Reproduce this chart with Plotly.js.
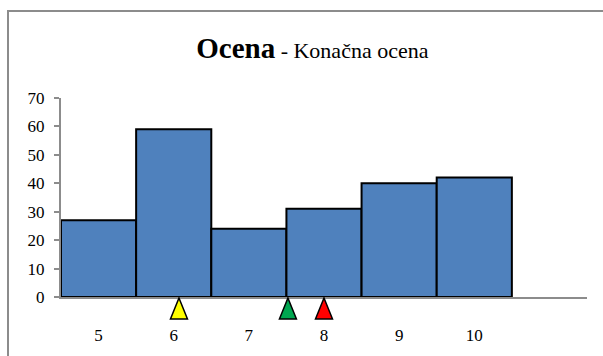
<!DOCTYPE html>
<html>
<head>
<meta charset="utf-8">
<script src="https://cdn.plot.ly/plotly-3.0.1.min.js"></script>
<style>
html, body { margin: 0; padding: 0; background: #fff; overflow: hidden; }
#frame { position: absolute; left: 7px; top: 10px; width: 620px; height: 400px; border: 2px solid #8c8c8c; box-sizing: border-box; pointer-events: none; z-index: 2; }
#chart { position: absolute; left: 0; top: 0; width: 603px; height: 356px; }
</style>
</head>
<body>
<div id="chart"></div>
<div id="frame"></div>
<script>
// Data
var grades = [5, 6, 7, 8, 9, 10];
var counts = [27, 59, 24, 31, 40, 42];
var markerPositions = [6.07, 7.52, 8.0];
var markerColors = ['#ffff00', '#00a650', '#ff0000'];
var yTicks = [0, 10, 20, 30, 40, 50, 60, 70];
var titleMain = 'Ocena';
var titleSub = ' - Konačna ocena';

var serif = 'Liberation Serif, Times New Roman, serif';

var trace = {
  type: 'bar',
  x: grades,
  y: counts,
  width: 1,
  marker: { color: '#4f81bd', line: { color: '#000000', width: 2 } },
  hoverinfo: 'x+y'
};

var shapes = markerPositions.map(function (p, i) {
  return {
    type: 'path',
    xref: 'x', yref: 'paper',
    xsizemode: 'pixel', ysizemode: 'pixel',
    xanchor: p, yanchor: 0,
    path: 'M0,-1 L8.5,-22 L-8.5,-22 Z',
    fillcolor: markerColors[i],
    line: { color: '#000000', width: 1.5 },
    layer: 'above'
  };
});

var layout = {
  width: 603, height: 356,
  margin: { l: 61, r: 16, t: 98, b: 59 },
  paper_bgcolor: 'rgba(0,0,0,0)',
  plot_bgcolor: 'rgba(0,0,0,0)',
  showlegend: false,
  bargap: 0,
  font: { family: serif, color: '#000', size: 17 },
  title: {
    text: '<b><span style="font-size:29px">' + titleMain + '</span></b><span style="font-size:22px">' + titleSub + '</span>',
    x: 0.518, xanchor: 'center', xref: 'container',
    y: 0.86, yanchor: 'middle', yref: 'container',
    font: { family: serif, color: '#000' }
  },
  xaxis: {
    range: [4.5, 11.5],
    tickvals: grades,
    ticktext: grades.map(String),
    showline: true, linecolor: '#8c8c8c', linewidth: 2,
    ticks: '', showgrid: false, zeroline: false,
    ticklabelstandoff: 22,
    tickfont: { family: serif, size: 17, color: '#000' },
    fixedrange: true
  },
  yaxis: {
    range: [0, 70],
    tickvals: yTicks,
    showline: true, linecolor: '#8c8c8c', linewidth: 2,
    ticks: 'outside', ticklen: 5, tickcolor: '#8c8c8c', tickwidth: 2,
    showgrid: false, zeroline: false,
    ticklabelstandoff: 6,
    tickfont: { family: serif, size: 17, color: '#000' },
    fixedrange: true
  },
  shapes: shapes
};

Plotly.newPlot('chart', [trace], layout, { displayModeBar: false, staticPlot: true });
</script>
</body>
</html>
